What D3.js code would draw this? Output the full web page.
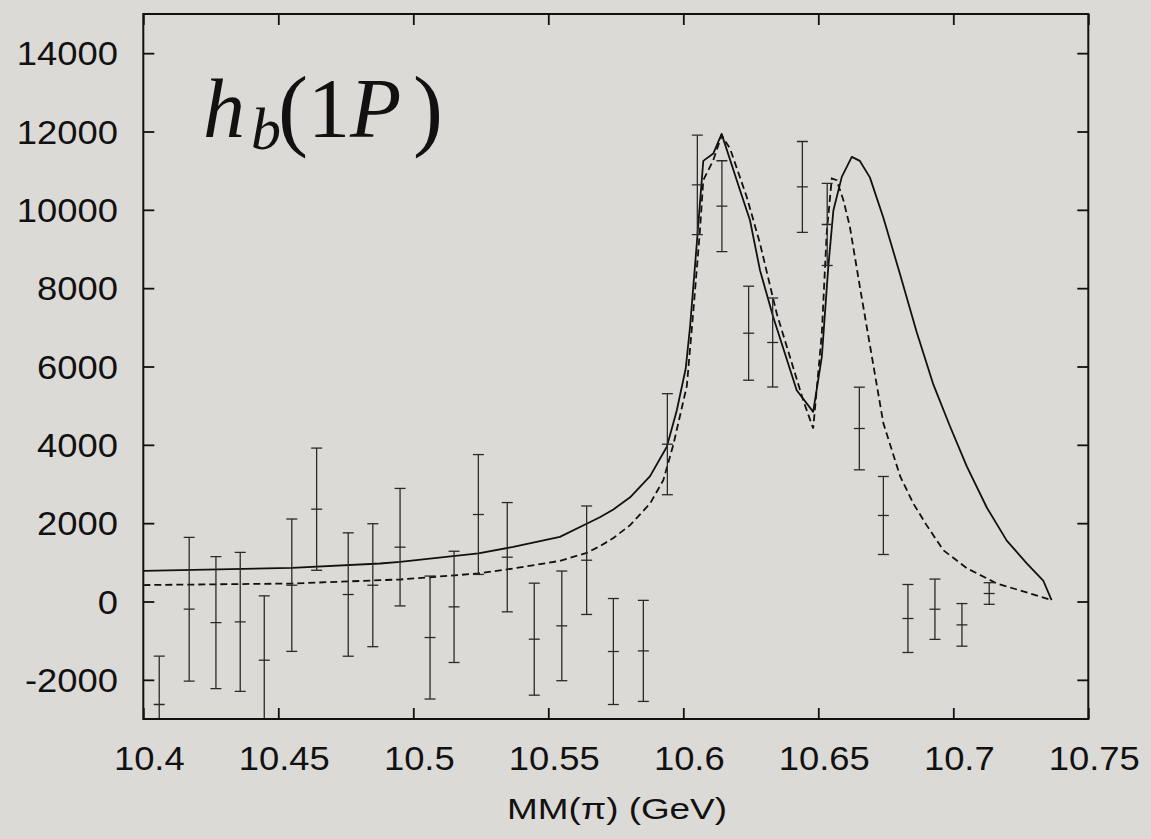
<!DOCTYPE html>
<html>
<head>
<meta charset="utf-8">
<script src="https://cdn.jsdelivr.net/npm/d3@7"></script>
<style>
  html, body { margin: 0; padding: 0; background: #dcdad6; }
  svg { display: block; }
</style>
</head>
<body>
<svg id="chart" width="1151" height="839"></svg>
<script>
// ---- data ----
const binMass = [10.4059, 10.4170, 10.4269, 10.4359, 10.4448, 10.4550, 10.4642, 10.4759, 10.4850, 10.4951,
                 10.5062, 10.5151, 10.5241, 10.5348, 10.5448, 10.5550, 10.5642, 10.5741, 10.5852, 10.5941,
                 10.6052, 10.6143, 10.6242, 10.6331, 10.6441, 10.6533, 10.6652, 10.6741, 10.6832, 10.6932,
                 10.7032, 10.7133];
const binEvents = [-2630, -197, -537, -520, -1499, 416, 2357, 178, 416, 1387,
                   -920, -137, 2221, 1131, -962, -622, 1054, -1277, -1261, 4016,
                   10637, 10093, 6850, 6613, 10585, 9626, 4417, 2196, -434, -197,
                   -597, 204];
const binErrors = [1233, 1834, 1685, 1775, 1643, 1690, 1560, 1575, 1570, 1500,
                   1570, 1420, 1530, 1395, 1430, 1400, 1385, 1353, 1290, 1290,
                   1270, 1160, 1200, 1136, 1160, 1047, 1055, 996, 868, 770,
                   544, 276];

const solidMass = [10.4000, 10.4550, 10.4877, 10.4951, 10.5241, 10.5370, 10.5543, 10.5642, 10.5691, 10.5741,
                   10.5803, 10.5877, 10.5939, 10.5976, 10.6009, 10.6025, 10.6050, 10.6074, 10.6111, 10.6142,
                   10.6210, 10.6247, 10.6284, 10.6333, 10.6420, 10.6481, 10.6513, 10.6537, 10.6556, 10.6587,
                   10.6624, 10.6654, 10.6691, 10.6741, 10.6803, 10.6864, 10.6926, 10.6988, 10.7050, 10.7124,
                   10.7198, 10.7272, 10.7333, 10.7364];
const solidValues = [781, 858, 970, 1011, 1230, 1394, 1650, 1985, 2150, 2350,
                     2660, 3200, 3950, 4884, 5949, 7011, 9140, 11250, 11437, 11940,
                     10500, 9735, 8459, 7266, 5395, 4841, 6245, 8543, 9991, 10841,
                     11352, 11249, 10828, 9800, 8350, 6886, 5543, 4468, 3450, 2400,
                     1555, 973, 536, 33];

const dashedMass = [10.4000, 10.4550, 10.4877, 10.4951, 10.5241, 10.5370, 10.5543, 10.5642, 10.5691, 10.5741,
                    10.5803, 10.5877, 10.5926, 10.5963, 10.6013, 10.6037, 10.6062, 10.6074, 10.6111, 10.6142,
                    10.6173, 10.6235, 10.6284, 10.6346, 10.6444, 10.6481, 10.6513, 10.6531, 10.6550, 10.6568,
                    10.6593, 10.6617, 10.6654, 10.6691, 10.6741, 10.6803, 10.6852, 10.6901, 10.6963, 10.7050,
                    10.7161, 10.7259, 10.7364];
const dashedValues = [420, 459, 544, 562, 715, 843, 1037, 1240, 1412, 1620,
                      1950, 2502, 3097, 4000, 5500, 7400, 9500, 10757, 11267, 11900,
                      11566, 10330, 9140, 7353, 5140, 4417, 6843, 9395, 10800, 10757,
                      10246, 9564, 8032, 6550, 4550, 3200, 2502, 1950, 1310, 850,
                      460, 258, 33];

const xTicks = [10.4, 10.45, 10.5, 10.55, 10.6, 10.65, 10.7, 10.75];
const xTickLabels = ["10.4", "10.45", "10.5", "10.55", "10.6", "10.65", "10.7", "10.75"];
const yTicks = [-2000, 0, 2000, 4000, 6000, 8000, 10000, 12000, 14000];
const xTitle = "MM(\u03C0) (GeV)";

// ---- layout ----
const padL = 143.3, padR = 1088.3, padT = 14, padB = 719;
const svg = d3.select("#chart");
const x = d3.scaleLinear().domain([10.4, 10.75]).range([padL, padR]);
const y = d3.scaleLinear().domain([-3000, 15000]).range([padB, padT]);
const ink = "#111";

svg.append("defs").append("clipPath").attr("id", "plotclip")
  .append("rect").attr("x", padL).attr("y", padT).attr("width", padR - padL).attr("height", padB - padT);

const plot = svg.append("g").attr("clip-path", "url(#plotclip)");

function toPairs(xs, vs) { return xs.map((m, i) => [m, vs[i]]); }
const solid = toPairs(solidMass, solidValues);
const dashed = toPairs(dashedMass, dashedValues);
const line = d3.line().x(d => x(d[0])).y(d => y(d[1]));

plot.append("path").datum(solid).attr("d", line)
  .attr("fill", "none").attr("stroke", ink).attr("stroke-width", 1.8).attr("stroke-linejoin", "round");
plot.append("path").datum(dashed).attr("d", line)
  .attr("fill", "none").attr("stroke", ink).attr("stroke-width", 1.8).attr("stroke-dasharray", "7,4");

// error bars
const pts = binMass.map((m, i) => ({ m, v: binEvents[i], e: binErrors[i] }));
const eb = plot.selectAll("g.eb").data(pts).enter().append("g").attr("class", "eb")
  .attr("stroke", "#2a2a2a").attr("stroke-width", 1.3);
const cap = 5.5;
eb.append("line").attr("x1", d => x(d.m)).attr("x2", d => x(d.m))
  .attr("y1", d => y(d.v - d.e)).attr("y2", d => y(d.v + d.e));
eb.append("line").attr("x1", d => x(d.m) - cap).attr("x2", d => x(d.m) + cap)
  .attr("y1", d => y(d.v + d.e)).attr("y2", d => y(d.v + d.e));
eb.append("line").attr("x1", d => x(d.m) - cap).attr("x2", d => x(d.m) + cap)
  .attr("y1", d => y(d.v - d.e)).attr("y2", d => y(d.v - d.e));
eb.append("line").attr("x1", d => x(d.m) - cap).attr("x2", d => x(d.m) + cap)
  .attr("y1", d => y(d.v)).attr("y2", d => y(d.v));

// axes (inward ticks on all four sides, frame)
const tickLen = 11;
const axG = svg.append("g");
axG.append("g").attr("transform", `translate(0,${padB})`)
  .call(d3.axisBottom(x).tickValues(xTicks).tickSizeInner(-tickLen).tickSizeOuter(0).tickFormat(""));
axG.append("g").attr("transform", `translate(0,${padT})`)
  .call(d3.axisTop(x).tickValues(xTicks).tickSizeInner(-tickLen).tickSizeOuter(0).tickFormat(""));
axG.append("g").attr("transform", `translate(${padL},0)`)
  .call(d3.axisLeft(y).tickValues(yTicks).tickSizeInner(-tickLen).tickSizeOuter(0).tickFormat(""));
axG.append("g").attr("transform", `translate(${padR},0)`)
  .call(d3.axisRight(y).tickValues(yTicks).tickSizeInner(-tickLen).tickSizeOuter(0).tickFormat(""));
axG.selectAll(".domain").remove();
axG.selectAll(".tick line").attr("stroke", ink).attr("stroke-width", 1.8);
svg.append("rect").attr("x", padL).attr("y", padT).attr("width", padR - padL).attr("height", padB - padT)
  .attr("fill", "none").attr("stroke", ink).attr("stroke-width", 2);

// tick labels
const labelFont = "'Liberation Sans', Arial, Helvetica, sans-serif";
svg.selectAll("text.ylab").data(yTicks).enter().append("text").attr("class", "ylab")
  .attr("transform", d => `translate(118,${y(d) + 12}) scale(1.07,1)`)
  .attr("text-anchor", "end").attr("font-family", labelFont).attr("font-size", 34).attr("fill", ink)
  .text(d => String(d));
svg.selectAll("text.xlab").data(xTicks).enter().append("text").attr("class", "xlab")
  .attr("transform", d => `translate(${x(d) + 6},770) scale(1.07,1)`)
  .attr("text-anchor", "middle").attr("font-family", labelFont).attr("font-size", 34).attr("fill", ink)
  .text((d, i) => xTickLabels[i]);

// x axis title
svg.append("text").attr("x", 507).attr("y", 819)
  .attr("font-family", labelFont).attr("font-size", 29).attr("fill", ink)
  .attr("textLength", 220).attr("lengthAdjust", "spacingAndGlyphs")
  .text(xTitle);

// panel label h_b(1P) as one text element with tspans
const serif = "'Liberation Serif', 'Times New Roman', serif";
const lab = svg.append("text").attr("fill", ink).attr("font-family", serif).attr("font-size", 84);
lab.append("tspan").attr("x", 203).attr("y", 137).attr("font-style", "italic").text("h");
lab.append("tspan").attr("x", 251).attr("y", 149).attr("font-size", 60).attr("font-style", "italic").text("b");
lab.append("tspan").attr("x", 278).attr("y", 139).attr("font-size", 90).text("(");
lab.append("tspan").attr("x", 308).attr("y", 137).text("1");
lab.append("tspan").attr("x", 350).attr("y", 137).attr("font-style", "italic").text("P");
lab.append("tspan").attr("x", 413).attr("y", 139).attr("font-size", 90).text(")");
</script>
</body>
</html>
